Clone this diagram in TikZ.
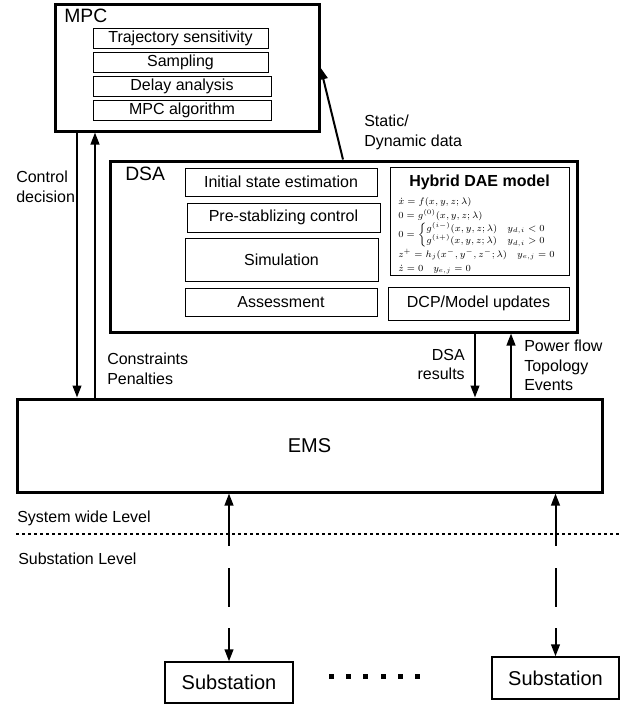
\documentclass[tikz,border=0pt]{standalone}
\usepackage{amsmath}
\usepackage{fontspec}
\setmainfont{Liberation Sans}
\usetikzlibrary{arrows.meta}

\begin{document}
\begin{tikzpicture}[x=0.75pt, y=-0.75pt, >={Triangle[length=9pt,width=6.5pt]},
    bigbox/.style={draw, line width=2.25pt, inner sep=0pt},
    subbox/.style={draw, line width=0.75pt, inner sep=0pt, font=\fontsize{12}{14}\selectfont},
    stbox/.style={draw, line width=1pt, inner sep=0pt, font=\fontsize{15}{18}\selectfont},
    lbl/.style={inner sep=0pt, font=\fontsize{12}{14.5}\selectfont},
    title/.style={inner sep=0pt, font=\fontsize{14.5}{17}\selectfont},
    flow/.style={->, line width=1.5pt}]

\useasboundingbox (0,0) rectangle (641,707);

% MPC block
\node[bigbox, minimum width=198pt, minimum height=95.25pt] (mpc) at (187,67.5) {};
\node[title, anchor=base west] (mpclbl) at (64,22.5) {MPC};
\node[subbox, minimum width=131.25pt, minimum height=15pt] (traj) at (180.5,38) {Trajectory sensitivity};
\node[subbox, minimum width=131.25pt, minimum height=15pt] (samp) at (180.5,62.5) {Sampling};
\node[subbox, minimum width=133.5pt, minimum height=15pt] (delay) at (182,86.5) {Delay analysis};
\node[subbox, minimum width=133.5pt, minimum height=15pt] (algo) at (182,110.5) {MPC algorithm};

% DSA block
\node[bigbox, minimum width=350.25pt, minimum height=128.25pt] (dsa) at (343.5,246.5) {};
\node[title, anchor=base west] (dsalbl) at (125,180) {DSA};
\node[subbox, minimum width=144pt, minimum height=21pt] (init) at (281,182) {Initial state estimation};
\node[subbox, minimum width=144.75pt, minimum height=21.75pt] (prestab) at (283.5,217.5) {Pre-stablizing control};
\node[subbox, minimum width=144.75pt, minimum height=32.25pt] (sim) at (281.5,259.5) {Simulation};
\node[subbox, minimum width=144pt, minimum height=21pt] (assess) at (281,302) {Assessment};
\node[subbox, minimum width=134.25pt, minimum height=81pt] (hybrid) at (479.5,221) {};
\node[lbl, font=\fontsize{12}{14}\bfseries, anchor=north] (daetitle) at ([yshift=-6pt]hybrid.north) {Hybrid DAE model};
\node[inner sep=0pt, anchor=north west, font=\fontsize{7.5}{9}\selectfont] (dae) at (398,194)
  {$\renewcommand{\arraystretch}{1.17}
   \begin{array}{@{}l@{}}
   \dot{x} = f(x, y, z;\lambda)\\
   0 = g^{(0)}(x, y, z;\lambda)\\
   0 = \left\{\renewcommand{\arraystretch}{1.0}\begin{array}{@{}l@{\quad}l@{}}
       g^{(i-)}(x, y, z;\lambda) & y_{d,i} < 0\\
       g^{(i+)}(x, y, z;\lambda) & y_{d,i} > 0
     \end{array}\right.\\
   z^{+} = h_j(x^{-}, y^{-}, z^{-};\lambda) \quad y_{e,j} = 0\\
   \dot{z} = 0 \quad y_{e,j} = 0
   \end{array}$};
\node[subbox, minimum width=135.75pt, minimum height=24.75pt] (dcp) at (478.5,303.5) {DCP/Model updates};

% EMS and substations
\node[bigbox, minimum width=438.75pt, minimum height=69.75pt, font=\fontsize{15}{18}\selectfont] (ems) at (309.5,445.5) {EMS};
\node[stbox, minimum width=96pt, minimum height=30.75pt] (sub1) at (229,682.5) {Substation};
\node[stbox, minimum width=95.25pt, minimum height=31.5pt] (sub2) at (555.5,678) {Substation};

% arrow positions
\coordinate (cd) at (77,0);
\coordinate (cu) at (95,0);
\coordinate (sd) at (343,0);
\coordinate (rd) at (475,0);
\coordinate (pu) at (511,0);

% MPC <-> EMS
\draw[flow] (mpc.south -| cd) -- (ems.north -| cd);
\draw[flow] (ems.north -| cu) -- (mpc.south -| cu);
\node[lbl, anchor=north west, align=left] (ctl) at (16,171) {Control\\decision};
\node[lbl, anchor=north west, align=left] (cons) at (107,353) {Constraints\\Penalties};

% DSA -> MPC
\draw[flow] (dsa.north -| sd) -- (mpc.east);
\node[lbl, anchor=north west, align=left] (stat) at (364,115) {Static/\\Dynamic data};

% DSA <-> EMS
\draw[flow] (dsa.south -| rd) -- (ems.north -| rd);
\draw[flow] (ems.north -| pu) -- (dsa.south -| pu);
\node[lbl, anchor=north east, align=right] (res) at (465,349) {DSA\\results};
\node[lbl, anchor=north west, align=left] (pf) at (524,340) {Power flow\\Topology\\Events};

% levels
\draw[line width=1.1pt, dash pattern=on 2.25pt off 2.25pt] (16,534) -- (620,534);
\node[lbl, anchor=north west] (syslvl) at (17,511) {System wide Level};
\node[lbl, anchor=north west] (sublvl) at (18,553) {Substation Level};

% EMS <-> substations
\draw[<->, line width=1.5pt, dash pattern=on 31pt off 16.5pt on 29.25pt off 15.75pt on 100pt off 1pt] (ems.south -| sub1.north) -- (sub1.north);
\draw[<->, line width=1.5pt, dash pattern=on 31pt off 16.5pt on 29.25pt off 15.75pt on 100pt off 1pt] (ems.south -| sub2.north) -- (sub2.north);

% dots between substations
\foreach \i in {0,...,5}
  \fill (329+17.2*\i,673.5) rectangle ++(5,5);

\end{tikzpicture}
\end{document}
